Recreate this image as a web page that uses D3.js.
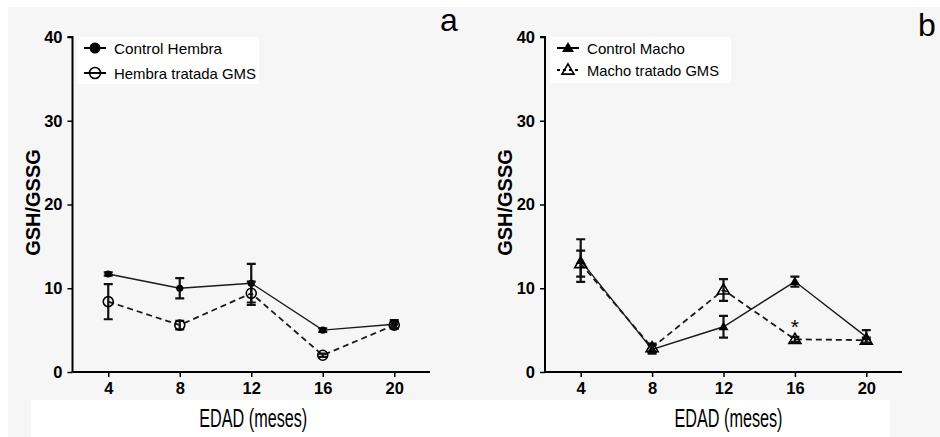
<!DOCTYPE html>
<html>
<head>
<meta charset="utf-8">
<script src="https://cdn.jsdelivr.net/npm/d3@7"></script>
<style>
  html, body { margin: 0; padding: 0; background: #ffffff; }
  svg { display: block; }
  text { font-family: "Liberation Sans", Arial, sans-serif; fill: #000; }
</style>
</head>
<body>
<svg id="fig" width="940" height="437"></svg>
<script>
// Ages (months) and y-axis ticks
const ages = [4, 8, 12, 16, 20];
const xTicks = [4, 8, 12, 16, 20];
const yTicks = [0, 10, 20, 30, 40];

// Females: GSH/GSSG mean and SEM
const controlHembra = [11.7, 10.0, 10.6, 5.0, 5.7];
const controlHembraSem = [0.2, 1.2, 2.3, 0.2, 0.5];
const tratadaHembra = [8.4, 5.6, 9.4, 2.0, 5.6];
const tratadaHembraSem = [2.1, 0.5, 1.4, 0.2, 0.4];

// Males: GSH/GSSG mean and SEM
const controlMacho = [13.3, 2.7, 5.4, 10.8, 4.2];
const controlMachoSem = [2.55, 0.5, 1.3, 0.6, 0.8];
const tratadoMacho = [12.95, 2.9, 9.8, 3.9, 3.8];
const tratadoMachoSem = [1.55, 0.5, 1.3, 0.3, 0.3];

// Significance mark (age, value)
const significance = [{ age: 16, value: 5.9, label: "*" }];

const svg = d3.select("#fig");

// Figure background
svg.append("rect").attr("x", 0).attr("y", 0).attr("width", 940).attr("height", 437).attr("fill", "#ffffff");
svg.append("rect").attr("x", 8).attr("y", 7).attr("width", 932).attr("height", 430).attr("fill", "#f6f6f6");
svg.append("rect").attr("x", 31).attr("y", 400).attr("width", 859).attr("height", 37).attr("fill", "#ffffff");

function drawPanel(opts) {
  const g = svg.append("g");
  const x = d3.scaleLinear().domain([2, 22]).range([opts.left, opts.right]);
  const y = d3.scaleLinear().domain([0, 40]).range([opts.bottom, opts.top]);

  // Axes
  const yAxis = d3.axisLeft(y).tickValues(yTicks).tickSize(5).tickPadding(5);
  const yg = g.append("g").attr("transform", `translate(${opts.left},0)`).call(yAxis);
  const xAxis = d3.axisBottom(x).tickValues(xTicks).tickSize(5).tickPadding(5);
  const xg = g.append("g").attr("transform", `translate(0,${opts.bottom})`).call(xAxis);
  [yg, xg].forEach(a => {
    a.select(".domain").attr("stroke", "#000").attr("stroke-width", 2);
    a.selectAll(".tick line").attr("stroke", "#000").attr("stroke-width", 1.5);
    a.selectAll(".tick text").attr("font-size", 16.5).attr("font-weight", "bold")
      .attr("font-family", "Liberation Sans, Arial, sans-serif").attr("fill", "#111");
  });
  // x axis: no outer end ticks
  xg.select(".domain").attr("d", `M${opts.left},0H${opts.right}`);
  yg.select(".domain").attr("d", `M-5,${opts.top}H0V${opts.bottom}`);

  // Axis titles
  g.append("text")
    .attr("transform", `translate(${opts.left - 38},${(opts.top + opts.bottom) / 2 - 2}) rotate(-90)`)
    .attr("text-anchor", "middle").attr("dominant-baseline", "middle")
    .attr("font-size", 20).attr("font-weight", "bold").attr("fill", "#222")
    .text("GSH/GSSG");
  g.append("text")
    .attr("x", (opts.left + opts.right) / 2 + opts.titleShift).attr("y", 427)
    .attr("text-anchor", "middle").attr("font-size", 26)
    .attr("textLength", 108).attr("lengthAdjust", "spacingAndGlyphs")
    .text("EDAD (meses)");

  // Panel letter
  g.append("text").attr("x", opts.letterX).attr("y", opts.letterY)
    .attr("font-size", 32).text(opts.letter);

  const capW = 4.5;
  opts.series.forEach(s => {
    const pts = ages.map((a, i) => ({ a, v: s.values[i], e: s.sem[i] }));
    // connecting line
    g.append("path").datum(pts)
      .attr("fill", "none").attr("stroke", "#1a1a1a")
      .attr("stroke-width", s.dashed ? 1.8 : 1.4)
      .attr("stroke-dasharray", s.dashed ? "6,4" : null)
      .attr("d", d3.line().x(d => x(d.a)).y(d => y(d.v)));
    // error bars
    const eb = g.append("g").attr("stroke", "#111").attr("stroke-width", 2.2).attr("fill", "none");
    pts.forEach(d => {
      eb.append("path").attr("d",
        `M${x(d.a)},${y(d.v + d.e)}V${y(d.v - d.e)}` +
        `M${x(d.a) - capW},${y(d.v + d.e)}H${x(d.a) + capW}` +
        `M${x(d.a) - capW},${y(d.v - d.e)}H${x(d.a) + capW}`);
    });
    // markers
    pts.forEach(d => drawMarker(g, s.marker, x(d.a), y(d.v), s.markerSize));
  });

  // legend
  const lg = g.append("g");
  lg.append("rect").attr("x", opts.legend.x).attr("y", opts.legend.y)
    .attr("width", opts.legend.w).attr("height", opts.legend.h).attr("fill", "#ffffff");
  opts.series.forEach((s, i) => {
    const ly = opts.legend.y + 11 + i * opts.legend.rowH;
    const cx = opts.legend.x + 18;
    lg.append("line").attr("x1", cx - 11).attr("x2", cx + 11).attr("y1", ly).attr("y2", ly)
      .attr("stroke", "#000").attr("stroke-width", 2)
      .attr("stroke-dasharray", s.dashed && s.marker === "triangleOpen" ? "3,3" : null);
    drawMarker(lg, s.marker, cx, ly, s.legendSize);
    lg.append("text").attr("x", opts.legend.x + 37).attr("y", ly + 5.5)
      .attr("font-size", 15).attr("textLength", s.textLen).attr("lengthAdjust", "spacingAndGlyphs")
      .text(s.name);
  });

  if (opts.marks) {
    opts.marks.forEach(m => {
      g.append("text").attr("x", x(m.age)).attr("y", y(m.value) + 11)
        .attr("text-anchor", "middle").attr("font-size", 21).text(m.label);
    });
  }
}

function drawMarker(g, type, cx, cy, size) {
  if (type === "circleFilled") {
    g.append("circle").attr("cx", cx).attr("cy", cy).attr("r", size).attr("fill", "#000");
  } else if (type === "circleOpen") {
    g.append("circle").attr("cx", cx).attr("cy", cy).attr("r", size)
      .attr("fill", "none").attr("stroke", "#000").attr("stroke-width", 1.6);
  } else {
    const h = size * 1.7, w = size * 2;
    const p = `M${cx},${cy - h * 0.6}L${cx + w / 2},${cy + h * 0.4}L${cx - w / 2},${cy + h * 0.4}Z`;
    if (type === "triangleFilled") {
      g.append("path").attr("d", p).attr("fill", "#000");
    } else {
      g.append("path").attr("d", p).attr("fill", "none").attr("stroke", "#000").attr("stroke-width", 1.6);
    }
  }
}

drawPanel({
  left: 72.5, right: 430, top: 37, bottom: 372, titleShift: 2,
  letter: "a", letterX: 440, letterY: 31,
  legend: { x: 77, y: 37, w: 182, h: 47, rowH: 25 },
  series: [
    { name: "Control Hembra", values: controlHembra, sem: controlHembraSem, dashed: false,
      marker: "circleFilled", markerSize: 3.6, legendSize: 5.5, textLen: 108 },
    { name: "Hembra tratada GMS", values: tratadaHembra, sem: tratadaHembraSem, dashed: true,
      marker: "circleOpen", markerSize: 5, legendSize: 5.5, textLen: 142 }
  ]
});

drawPanel({
  left: 545, right: 902, top: 37, bottom: 372, titleShift: 5,
  letter: "b", letterX: 918, letterY: 36,
  legend: { x: 550, y: 37, w: 181, h: 46, rowH: 22 },
  series: [
    { name: "Control Macho", values: controlMacho, sem: controlMachoSem, dashed: false,
      marker: "triangleFilled", markerSize: 5, legendSize: 6, textLen: 98 },
    { name: "Macho tratado GMS", values: tratadoMacho, sem: tratadoMachoSem, dashed: true,
      marker: "triangleOpen", markerSize: 6, legendSize: 6, textLen: 132 }
  ],
  marks: significance
});
</script>
</body>
</html>
